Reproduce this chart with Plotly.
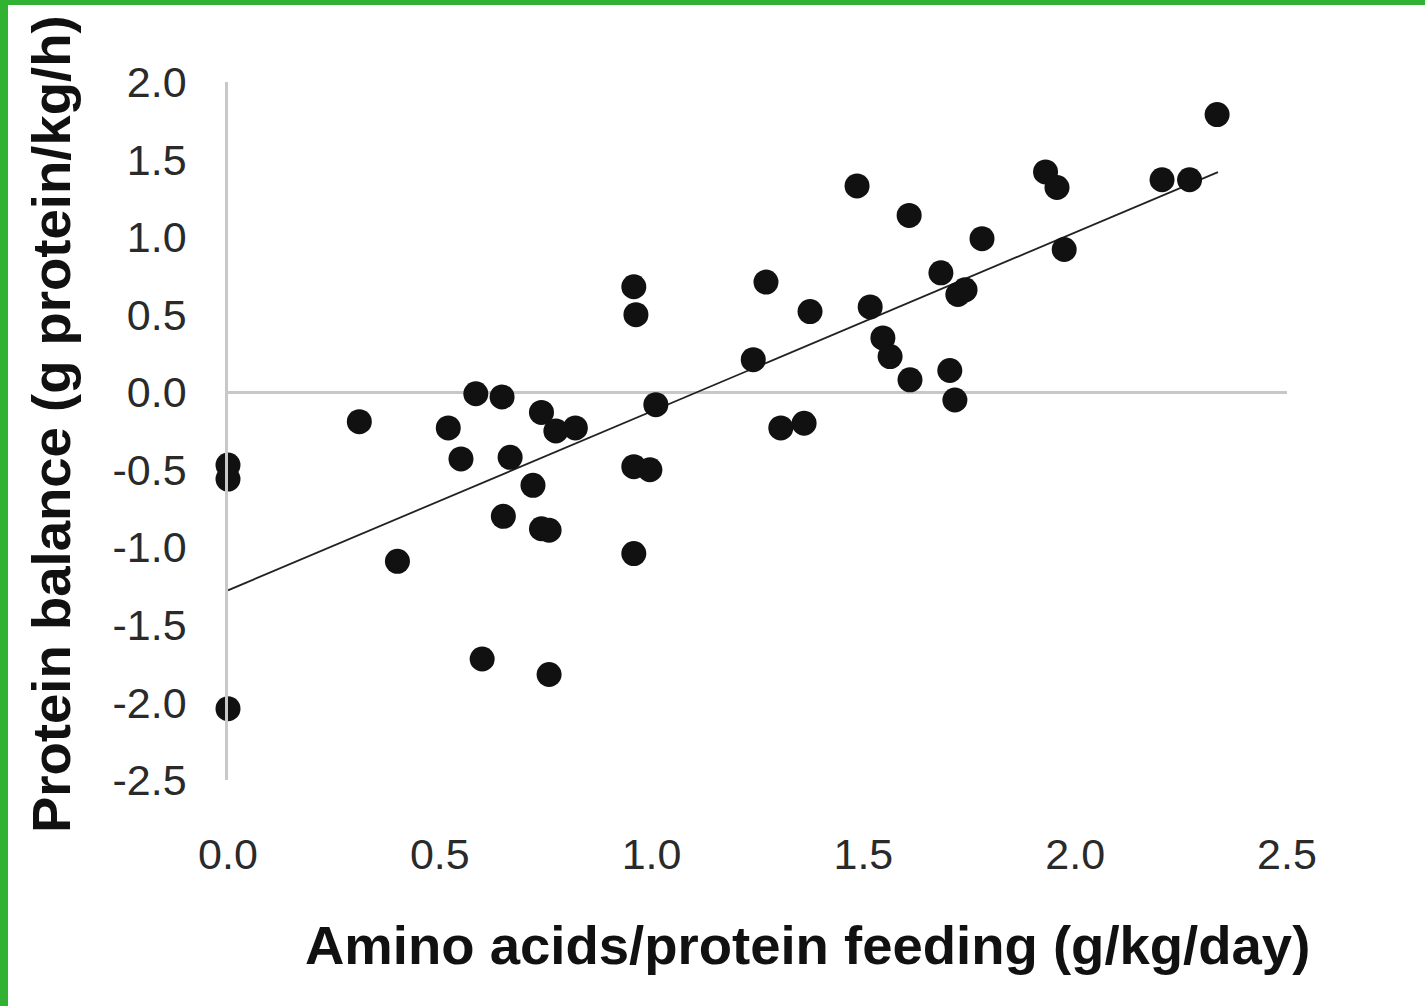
import plotly.graph_objects as go

# Data
feeding = [0.0, 0.0, 0.0, 0.31, 0.40, 0.52, 0.55, 0.585, 0.647, 0.666,
           0.65, 0.60, 0.72, 0.74, 0.74, 0.758, 0.774, 0.82, 0.758, 0.958,
           0.963, 0.958, 0.996, 0.958, 1.01, 1.24, 1.27, 1.305, 1.36, 1.374,
           1.485, 1.516, 1.546, 1.563, 1.61, 1.608, 1.683, 1.704, 1.716, 1.723,
           1.74, 1.78, 1.93, 1.957, 1.974, 2.205, 2.27, 2.335]
balance = [-0.47, -0.56, -2.04, -0.19, -1.09, -0.23, -0.43, -0.01, -0.03, -0.42,
           -0.80, -1.72, -0.60, -0.13, -0.88, -0.89, -0.25, -0.23, -1.82, 0.68,
           0.50, -0.48, -0.50, -1.04, -0.08, 0.21, 0.71, -0.23, -0.20, 0.52,
           1.33, 0.55, 0.35, 0.23, 0.08, 1.14, 0.77, 0.14, -0.05, 0.63,
           0.66, 0.99, 1.42, 1.32, 0.92, 1.37, 1.37, 1.79]

trend_x = [0.0, 2.337]
trend_y = [-1.277, 1.419]

x_ticks = [0.0, 0.5, 1.0, 1.5, 2.0, 2.5]
x_tick_labels = ["0.0", "0.5", "1.0", "1.5", "2.0", "2.5"]
y_ticks = [-2.5, -2.0, -1.5, -1.0, -0.5, 0.0, 0.5, 1.0, 1.5, 2.0]
y_tick_labels = ["-2.5", "-2.0", "-1.5", "-1.0", "-0.5", "0.0", "0.5", "1.0", "1.5", "2.0"]

x_title = "Amino acids/protein feeding (g/kg/day)"
y_title = "Protein balance (g protein/kg/h)"

W, H = 1425, 1006
L, R, T, B = 228, 138, 82, 226
PW, PH = W - L - R, H - T - B

fig = go.Figure()
fig.add_trace(go.Scatter(x=trend_x, y=trend_y, mode="lines",
                         line=dict(color="#222222", width=1.8),
                         hoverinfo="skip", showlegend=False, cliponaxis=False))
fig.add_trace(go.Scatter(x=feeding, y=balance, mode="markers",
                         marker=dict(size=25, color="#111111", line=dict(width=0)),
                         showlegend=False, cliponaxis=False))

tickfont = dict(family="Liberation Sans, Arial, sans-serif", size=43, color="#2a2a2a")
titlefont = dict(family="Liberation Sans, Arial, sans-serif", size=54.5, color="#111111")

fig.update_xaxes(range=[0, 2.5], tickvals=x_ticks, ticktext=x_tick_labels,
                 showgrid=False, zeroline=False, showline=False, ticks="",
                 tickfont=tickfont, ticklabelstandoff=45)
fig.update_yaxes(range=[-2.5, 2.0], tickvals=y_ticks, ticktext=y_tick_labels,
                 showgrid=False, zeroline=True, zerolinecolor="#c8c8c8", zerolinewidth=2.5,
                 showline=True, linecolor="#c8c8c8", linewidth=2.5, ticks="",
                 tickfont=tickfont, ticklabelstandoff=30)

annotations = [
    dict(text="<b>" + x_title + "</b>", xref="paper", yref="paper",
         x=(807 - L) / PW, y=-(945 - (T + PH)) / PH, xanchor="center", yanchor="middle",
         showarrow=False, font=titlefont),
    dict(text="<b>" + y_title + "</b>", xref="paper", yref="paper",
         x=-(L - 51) / PW, y=(T + PH - 424) / PH, xanchor="center", yanchor="middle",
         textangle=-90, showarrow=False, font=titlefont),
]

green = "#31b232"
top_y0 = (PH + T - 5) / PH
top_y1 = (PH + T) / PH
left_x0 = -L / PW
left_x1 = -(L - 8) / PW
shapes = [
    dict(type="rect", xref="paper", yref="paper", layer="above",
         x0=-L / PW, x1=(W - L) / PW, y0=top_y0, y1=top_y1,
         fillcolor=green, line=dict(width=0)),
    dict(type="rect", xref="paper", yref="paper", layer="above",
         x0=left_x0, x1=left_x1, y0=-B / PH, y1=top_y1,
         fillcolor=green, line=dict(width=0)),
]

fig.update_layout(width=W, height=H, margin=dict(l=L, r=R, t=T, b=B),
                  plot_bgcolor="white", paper_bgcolor="white",
                  annotations=annotations, shapes=shapes, showlegend=False)

fig.write_html("out.html")
